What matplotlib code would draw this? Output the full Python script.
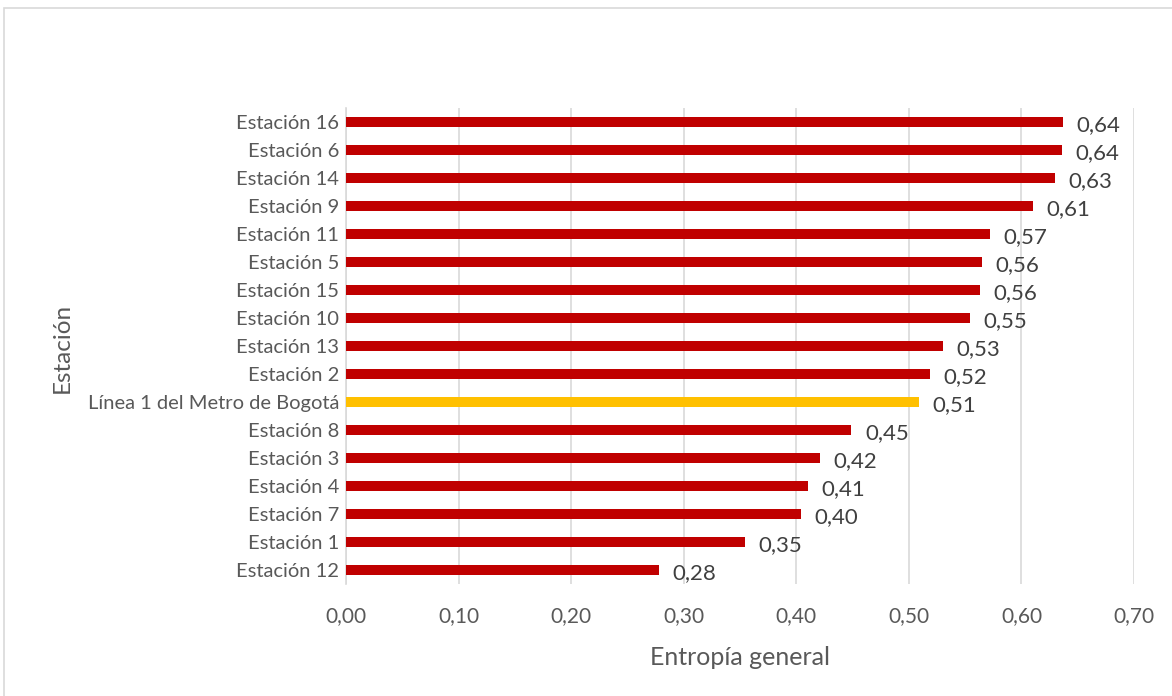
import matplotlib.pyplot as plt
from matplotlib.patches import Rectangle

plt.rcParams['font.family'] = ['Lato', 'DejaVu Sans']

# top to bottom, as listed on the axis
stations = [
    "Estación 16", "Estación 6", "Estación 14", "Estación 9", "Estación 11",
    "Estación 5", "Estación 15", "Estación 10", "Estación 13", "Estación 2",
    "Línea 1 del Metro de Bogotá", "Estación 8", "Estación 3", "Estación 4",
    "Estación 7", "Estación 1", "Estación 12",
]
entropy = [
    0.637, 0.636, 0.630, 0.610, 0.572, 0.565, 0.563, 0.554, 0.530, 0.519,
    0.509, 0.449, 0.421, 0.410, 0.404, 0.354, 0.278,
]
highlight = "Línea 1 del Metro de Bogotá"
x_ticks = [0.0, 0.1, 0.2, 0.3, 0.4, 0.5, 0.6, 0.7]

RED = "#C00000"
GOLD = "#FFC000"


def fmt(v):
    return f"{v:.2f}".replace(".", ",")


fig = plt.figure(figsize=(11.72, 6.96), dpi=100)
fig.patches.append(Rectangle((0.003, -0.01), 1.2, 0.998, transform=fig.transFigure,
                             fill=False, edgecolor="#D9D9D9", linewidth=1.2))
ax = fig.add_axes([0.2952, 0.1609, 0.6724, 0.6839])

ypos = list(range(len(stations)))[::-1]
colors = [GOLD if s == highlight else RED for s in stations]
ax.barh(ypos, entropy, height=0.37, color=colors, zorder=3)

for y, v in zip(ypos, entropy):
    ax.text(v + 0.012, y - 0.12, fmt(v), va="center", ha="left",
            fontsize=16, color="#404040")

ax.set_xlim(0, 0.7)
ax.set_ylim(-0.5, len(stations) - 0.5)
ax.set_xticks(x_ticks)
ax.set_xticklabels([fmt(t) for t in x_ticks], fontsize=15, color="#595959")
ax.set_yticks(ypos)
ax.set_yticklabels(stations, fontsize=14.5, color="#595959")
ax.tick_params(axis="y", length=0, pad=5)
ax.tick_params(axis="x", length=0, pad=16)

ax.grid(axis="x", color="#D9D9D9", linewidth=1.2, zorder=0)
for sp in ["top", "right", "bottom"]:
    ax.spines[sp].set_visible(False)
ax.spines["left"].set_color("#D9D9D9")
ax.spines["left"].set_linewidth(1.2)

ax.set_xlabel("Entropía general", fontsize=18, color="#595959", labelpad=14)
fig.text(0.053, 0.5, "Estación", rotation=90, ha="center", va="center",
         fontsize=17.5, color="#595959")

fig.savefig("out.png", dpi=100, facecolor="white")
